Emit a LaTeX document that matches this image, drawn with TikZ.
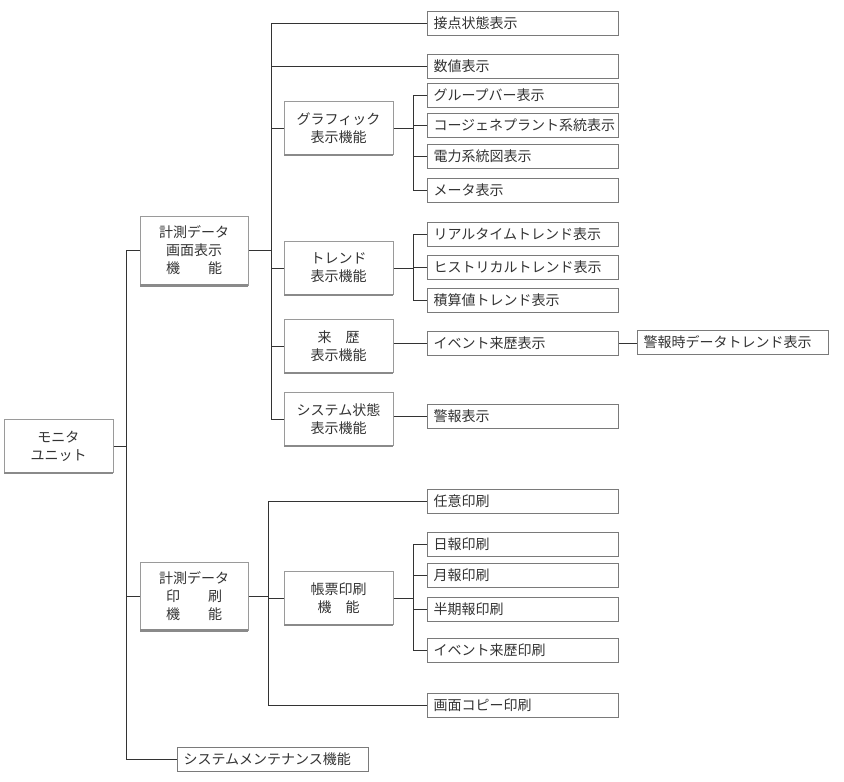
\documentclass[tikz,border=0pt]{standalone}
\usepackage{fontspec}
\setmainfont{Noto Sans CJK JP}
\definecolor{ink}{HTML}{333333}
\definecolor{leafline}{HTML}{7A7A7A}
\definecolor{boxline}{HTML}{9A9A9A}
\definecolor{shade}{HTML}{8A8A8A}
\tikzset{
  base/.style={inner sep=0pt, text=ink, font=\fontsize{10.5pt}{13.5pt}\selectfont},
  leaf/.style={base, draw=leafline, line width=0.75pt, fill=white, anchor=west,
    minimum width=143.25pt, minimum height=18pt, text width=134.25pt, align=left},
  parentbox/.style={base, draw=boxline, line width=0.75pt, fill=white,
    minimum width=81.75pt, minimum height=39.75pt, align=center},
  topbox/.style={parentbox, minimum width=81pt, minimum height=51.75pt},
  conn/.style={draw=ink, line width=0.75pt},
  shadeline/.style={draw=shade, line width=2.2pt}
}
\begin{document}
\begin{tikzpicture}[x=0.75pt,y=-0.75pt]
\useasboundingbox (0,0) rectangle (844,782);
\fill[white] (0,0) rectangle (844,782);

% trunk coordinates
\coordinate (t0) at (126,0);
\coordinate (t1) at (271,0);
\coordinate (t2) at (413,0);
\coordinate (t4) at (268,0);

% level 0 / 1
\node[parentbox, minimum height=39.75pt] (mon) at (58.5,446) {モニタ\\ユニット};
\node[topbox] (scr) at (194,250.5) {計測データ\\画面表示\\機　　能};
\node[topbox, minimum height=51pt] (prt) at (194,596) {計測データ\\印　　刷\\機　　能};
\node[leaf] (mnt) at (177,759) {システムメンテナンス機能};

% level 2 (screen)
\node[parentbox] (gra) at (338.5,128) {グラフィック\\表示機能};
\node[parentbox] (trd) at (338.5,268) {トレンド\\表示機能};
\node[parentbox] (rek) at (338.5,346) {来　歴\\表示機能};
\node[parentbox] (sys) at (338.5,419) {システム状態\\表示機能};

% leaves (screen)
\node[leaf] (l1) at (427,23) {接点状態表示};
\node[leaf] (l2) at (427,66) {数値表示};
\node[leaf] (g1) at (427,95) {グループバー表示};
\node[leaf] (g2) at (427,125) {コージェネプラント系統表示};
\node[leaf] (g3) at (427,156) {電力系統図表示};
\node[leaf] (g4) at (427,190) {メータ表示};
\node[leaf] (r1) at (427,234) {リアルタイムトレンド表示};
\node[leaf] (r2) at (427,267) {ヒストリカルトレンド表示};
\node[leaf] (r3) at (427,300) {積算値トレンド表示};
\node[leaf] (e1) at (427,343) {イベント来歴表示};
\node[leaf] (e2) at (637,342) {警報時データトレンド表示};
\node[leaf] (s1) at (427,416) {警報表示};

% print branch
\node[parentbox] (cho) at (338.5,598) {帳票印刷\\機　能};
\node[leaf] (p1) at (427,501) {任意印刷};
\node[leaf] (c1) at (427,544) {日報印刷};
\node[leaf] (c2) at (427,575) {月報印刷};
\node[leaf] (c3) at (427,609) {半期報印刷};
\node[leaf] (c4) at (427,650) {イベント来歴印刷};
\node[leaf] (p2) at (427,705) {画面コピー印刷};

% shading on bottom of raised boxes
\foreach \n in {mon,scr,prt,gra,trd,rek,sys,cho}
  \draw[shadeline] ([xshift=0.4pt]\n.south west) -- ([xshift=-0.4pt]\n.south east);

% connectors
\draw[conn] (mon.east) -- (mon.east -| t0);
\draw[conn] (scr.west) -- (scr.west -| t0) -- (mnt.west -| t0) -- (mnt.west);
\draw[conn] (prt.west) -- (prt.west -| t0);

\draw[conn] (scr.east) -- (scr.east -| t1);
\draw[conn] (l1.west) -- (l1.west -| t1) -- (sys.west -| t1) -- (sys.west);
\draw[conn] (l2.west) -- (l2.west -| t1);
\draw[conn] (gra.west) -- (gra.west -| t1);
\draw[conn] (trd.west) -- (trd.west -| t1);
\draw[conn] (rek.west) -- (rek.west -| t1);

\draw[conn] (gra.east) -- (gra.east -| t2);
\draw[conn] (g1.west) -- (g1.west -| t2) -- (g4.west -| t2) -- (g4.west);
\draw[conn] (g2.west) -- (g2.west -| t2);
\draw[conn] (g3.west) -- (g3.west -| t2);

\draw[conn] (trd.east) -- (trd.east -| t2);
\draw[conn] (r1.west) -- (r1.west -| t2) -- (r3.west -| t2) -- (r3.west);
\draw[conn] (r2.west) -- (r2.west -| t2);

\draw[conn] (rek.east |- e1.west) -- (e1.west);
\draw[conn] (e1.east) -- (e1.east -| e2.west);
\draw[conn] (sys.east |- s1.west) -- (s1.west);

\draw[conn] (prt.east) -- (prt.east -| t4);
\draw[conn] (p1.west) -- (p1.west -| t4) -- (p2.west -| t4) -- (p2.west);
\draw[conn] (cho.west) -- (cho.west -| t4);

\draw[conn] (cho.east) -- (cho.east -| t2);
\draw[conn] (c1.west) -- (c1.west -| t2) -- (c4.west -| t2) -- (c4.west);
\draw[conn] (c2.west) -- (c2.west -| t2);
\draw[conn] (c3.west) -- (c3.west -| t2);
\end{tikzpicture}
\end{document}
